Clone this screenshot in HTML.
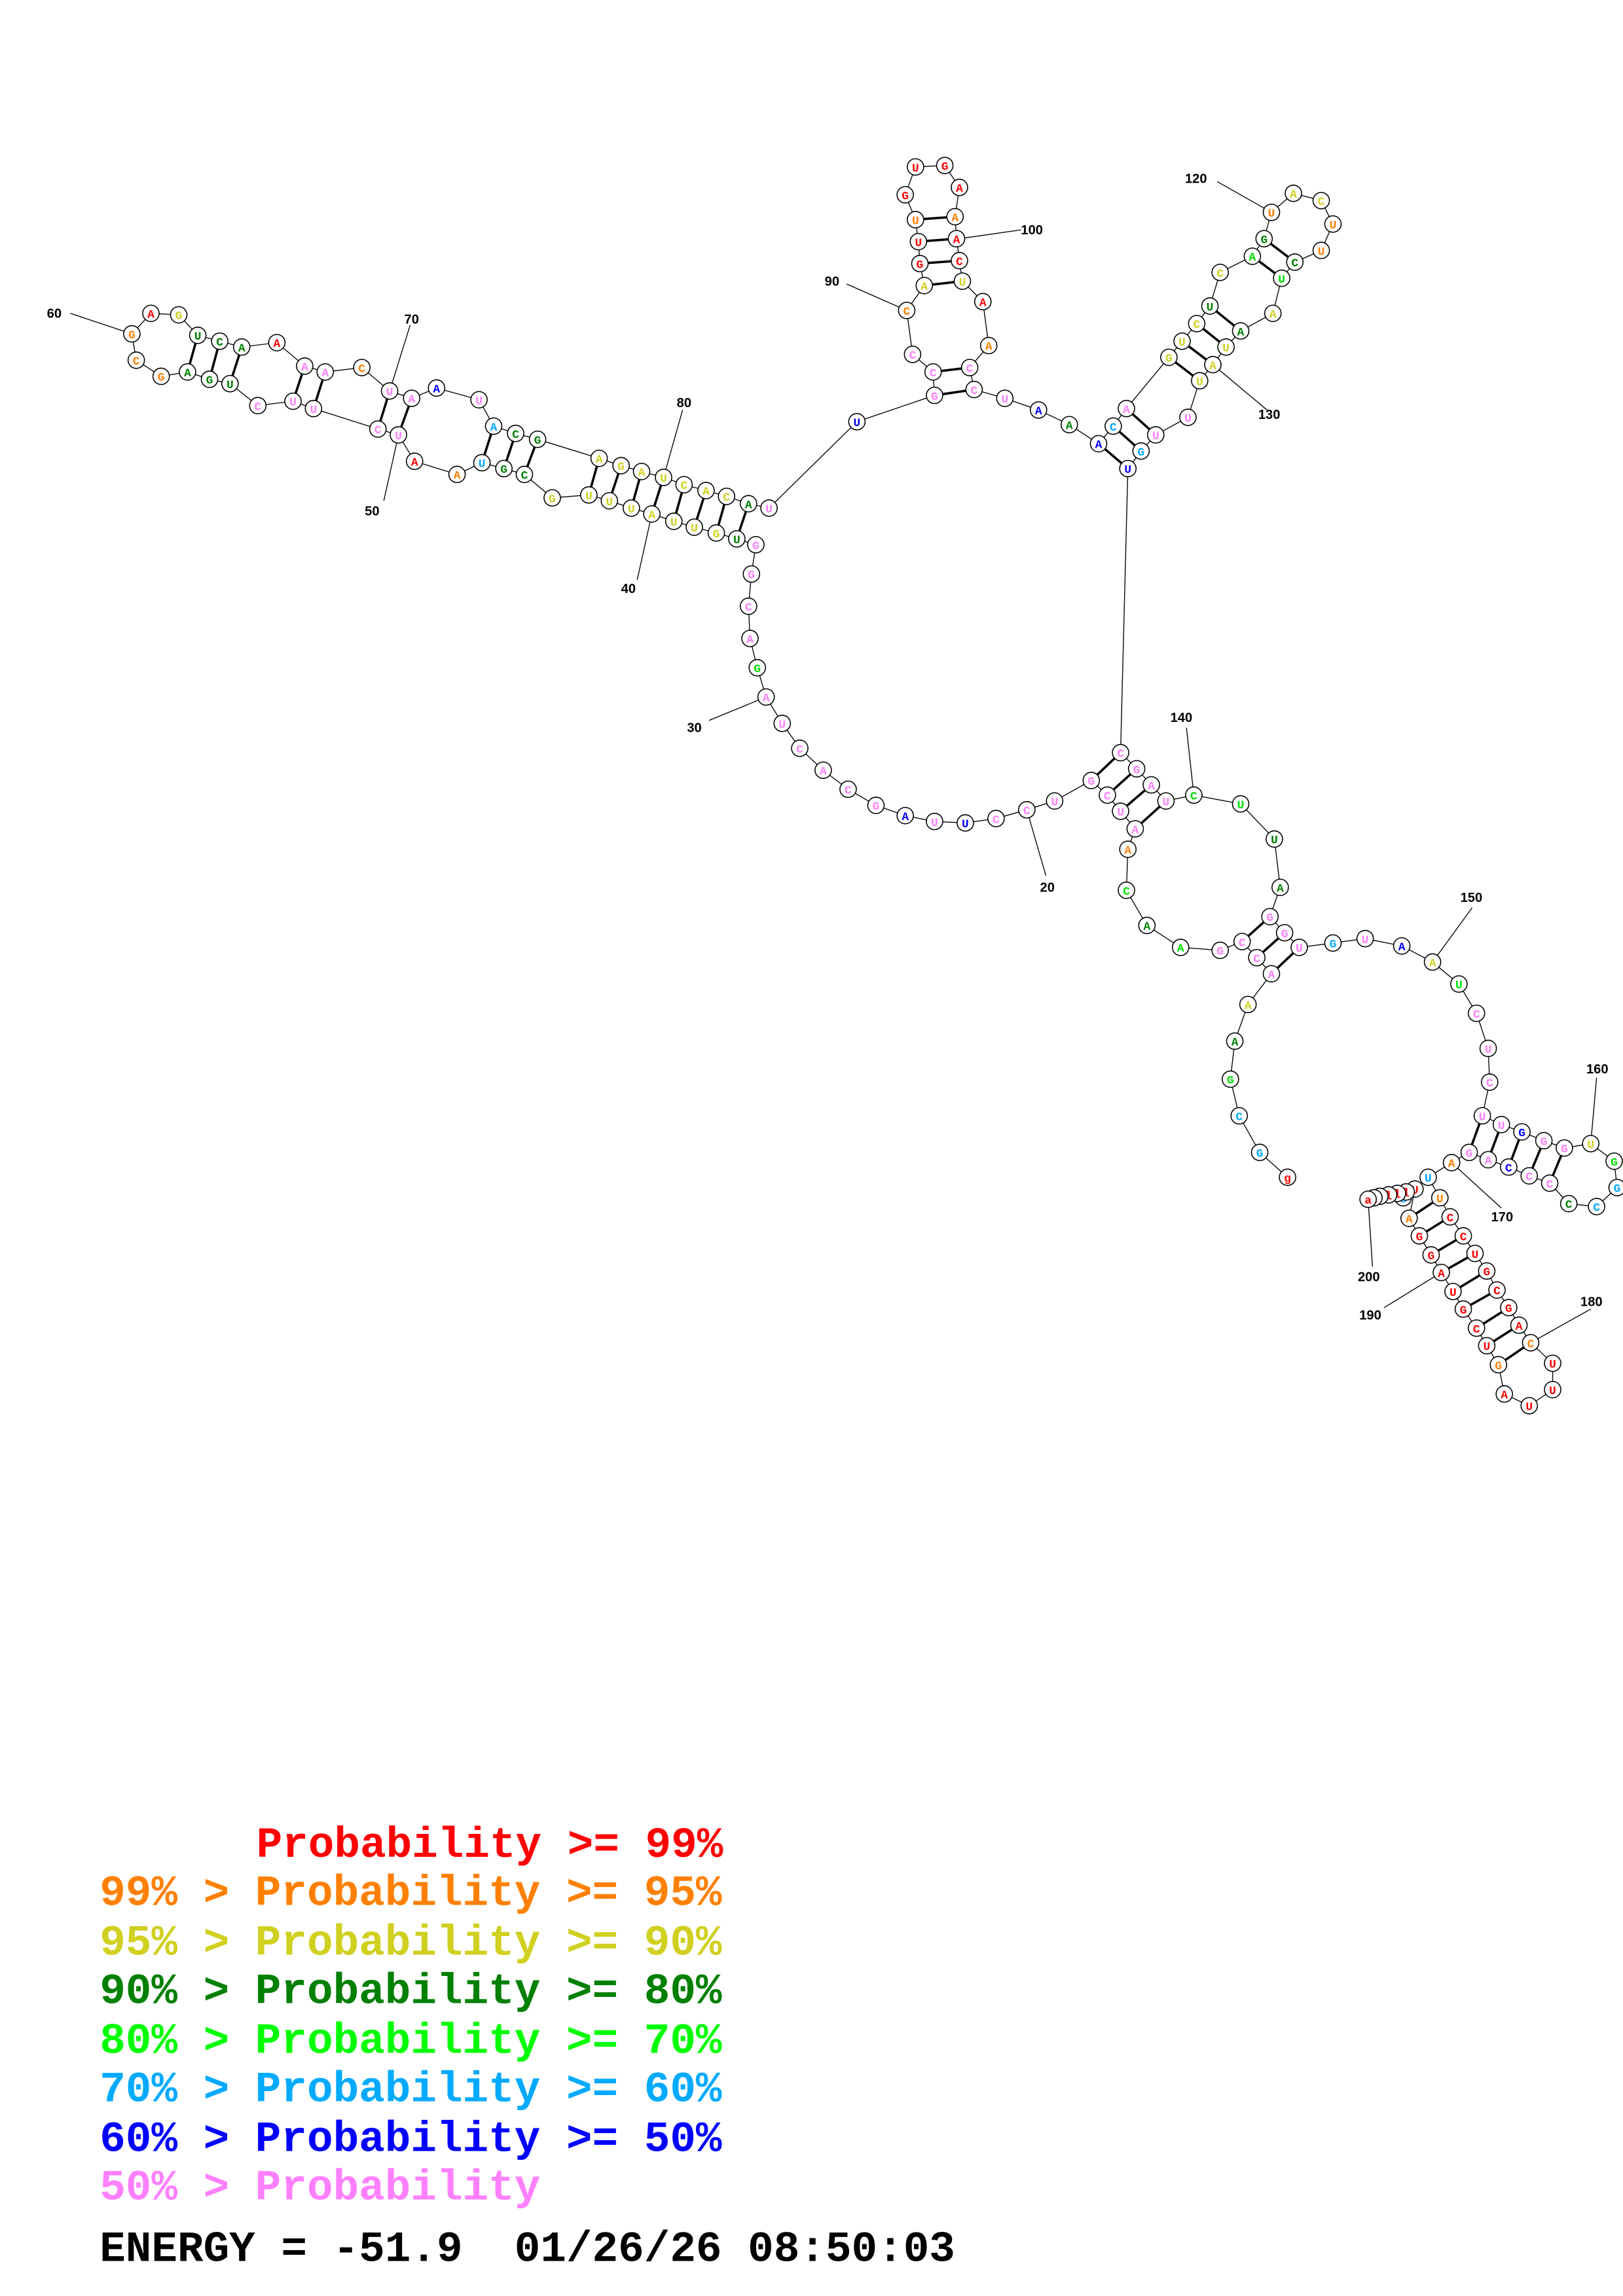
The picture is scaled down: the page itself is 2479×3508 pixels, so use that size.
<!DOCTYPE html>
<html><head><meta charset="utf-8"><style>
html,body{margin:0;padding:0;background:#fff}
svg{display:block}
.n circle{fill:#fff;stroke:#000;stroke-width:.7}
.n text{font-family:"Liberation Mono",monospace;font-weight:bold;font-size:8px;text-anchor:middle}
.r{fill:#f00}.o{fill:#ff8000}.y{fill:#d0d020}.d{fill:#008000}.l{fill:#00e000}.c{fill:#00a8ff}.b{fill:#0000ff}.p{fill:#ff80ff}
.lab{font-family:"Liberation Sans",sans-serif;font-weight:bold;font-size:9px;fill:#000}
.lg{font-family:"Liberation Mono",monospace;font-weight:bold;font-size:29.5px}
</style></head><body>
<svg width="2479" height="3508" viewBox="0 0 1108 1568" xmlns="http://www.w3.org/2000/svg">
<rect width="1108" height="1568" fill="#fff"/>
<polyline fill="none" stroke="#000" stroke-width=".6" points="879,804 860,787 846,762 840,737 843,711 852,686 868,665 858,654 848,643 833,649 806,647 783,632 769,608 770,580 775,566 765,554 756,543 745,533 720,547 701,553 680,559 659,562 638,561 618,557 598,550 579,539 562,526 546,511 534,494 523,476 517,456 512,436 511,414 513,392 516,372 503,368 489,364 474,360 460,356 445,351 431,347 416,342 402,338 377,340 358,324 344,320 329,316 312,324 283,315 272,297 258,293 214,279 200,274 176,277 157,262 143,259 128,254 110,257 93,246 90,228 103,214 122,215 135,229 150,233 165,237 189,234 208,250 222,254 247,251 266,267 281,272 298,265 327,273 337,291 352,296 367,300 409,313 424,318 438,322 453,326 467,331 482,335 496,339 511,344 525,347 585,288 638,270 637,254 623,242 619,212 631,195 628,180 627,165 625,150 618,133 625,114 645,113 655,128 652,148 653,163 655,178 657,192 671,206 675,236 662,251 665,266 686,272 709,280 730,290 750,303 760,291 769,279 798,244 807,233 817,221 826,209 833,186 855,175 863,163 868,145 883,132 902,137 910,153 902,171 884,179 875,190 869,214 847,226 837,237 828,249 819,260 811,285 789,297 779,308 770,320 765,514 776,525 786,536 796,547 815,543 847,549 870,573 874,606 867,626 877,637 887,647 910,644 932,641 957,646 978,657 996,672 1008,692 1016,716 1017,739 1012,762 1025,768 1039,773 1054,779 1068,784 1086,781 1102,793 1104,811 1090,824 1071,822 1058,808 1044,803 1030,797 1016,792 1003,787 991,794 975,804 983,818 990,831 999,844 1007,856 1015,868 1022,881 1030,893 1037,905 1045,917 1060,931 1060,949 1044,960 1027,952 1023,932 1015,919 1008,907 999,894 992,882 984,869 977,857 969,844 962,832 966,812 960,814 954,815 948,816 942,817 938,818 934,819"/>
<g stroke="#000" stroke-width="1.6">
<line x1="511" y1="344" x2="503" y2="368"/><line x1="496" y1="339" x2="489" y2="364"/><line x1="482" y1="335" x2="474" y2="360"/><line x1="467" y1="331" x2="460" y2="356"/><line x1="453" y1="326" x2="445" y2="351"/><line x1="438" y1="322" x2="431" y2="347"/><line x1="424" y1="318" x2="416" y2="342"/><line x1="409" y1="313" x2="402" y2="338"/>
<line x1="367" y1="300" x2="358" y2="324"/><line x1="352" y1="296" x2="344" y2="320"/><line x1="337" y1="291" x2="329" y2="316"/>
<line x1="266" y1="267" x2="258" y2="293"/><line x1="281" y1="272" x2="272" y2="297"/><line x1="222" y1="254" x2="214" y2="279"/><line x1="208" y1="250" x2="200" y2="274"/>
<line x1="135" y1="229" x2="128" y2="254"/><line x1="150" y1="233" x2="143" y2="259"/><line x1="165" y1="237" x2="157" y2="262"/>
<line x1="631" y1="195" x2="657" y2="192"/><line x1="628" y1="180" x2="655" y2="178"/><line x1="627" y1="165" x2="653" y2="163"/><line x1="625" y1="150" x2="652" y2="148"/>
<line x1="638" y1="270" x2="665" y2="266"/><line x1="637" y1="254" x2="662" y2="251"/>
<line x1="750" y1="303" x2="770" y2="320"/><line x1="760" y1="291" x2="779" y2="308"/><line x1="769" y1="279" x2="789" y2="297"/>
<line x1="798" y1="244" x2="819" y2="260"/><line x1="807" y1="233" x2="828" y2="249"/><line x1="817" y1="221" x2="837" y2="237"/><line x1="826" y1="209" x2="847" y2="226"/><line x1="855" y1="175" x2="875" y2="190"/><line x1="863" y1="163" x2="884" y2="179"/>
<line x1="745" y1="533" x2="765" y2="514"/><line x1="756" y1="543" x2="776" y2="525"/><line x1="765" y1="554" x2="786" y2="536"/><line x1="775" y1="566" x2="796" y2="547"/>
<line x1="848" y1="643" x2="867" y2="626"/><line x1="858" y1="654" x2="877" y2="637"/><line x1="868" y1="665" x2="887" y2="647"/>
<line x1="1012" y1="762" x2="1003" y2="787"/><line x1="1025" y1="768" x2="1016" y2="792"/><line x1="1039" y1="773" x2="1030" y2="797"/><line x1="1054" y1="779" x2="1044" y2="803"/><line x1="1068" y1="784" x2="1058" y2="808"/>
<line x1="983" y1="818" x2="962" y2="832"/><line x1="990" y1="831" x2="969" y2="844"/><line x1="999" y1="844" x2="977" y2="857"/><line x1="1007" y1="856" x2="984" y2="869"/><line x1="1015" y1="868" x2="992" y2="882"/><line x1="1022" y1="881" x2="999" y2="894"/><line x1="1030" y1="893" x2="1008" y2="907"/><line x1="1037" y1="905" x2="1015" y2="919"/><line x1="1045" y1="917" x2="1023" y2="932"/>
</g>
<g stroke="#000" stroke-width=".6">
<line x1="48" y1="214" x2="90" y2="228"/><line x1="280" y1="222" x2="266" y2="267"/><line x1="466" y1="280" x2="453" y2="326"/><line x1="262" y1="342" x2="272" y2="297"/><line x1="435" y1="396" x2="445" y2="351"/><line x1="484" y1="492" x2="523" y2="476"/><line x1="714" y1="598" x2="701" y2="553"/><line x1="578" y1="194" x2="619" y2="212"/><line x1="697" y1="157" x2="655" y2="163"/><line x1="831" y1="124" x2="868" y2="145"/><line x1="865" y1="280" x2="828" y2="249"/><line x1="810" y1="497" x2="815" y2="543"/><line x1="1005" y1="620" x2="978" y2="657"/><line x1="1090" y1="736" x2="1086" y2="781"/><line x1="1025" y1="825" x2="991" y2="794"/><line x1="1086" y1="894" x2="1045" y2="917"/><line x1="945" y1="893" x2="984" y2="869"/><line x1="937" y1="865" x2="934" y2="819"/>
</g>
<g class="lab">
<text x="32" y="217">60</text><text x="276" y="221">70</text><text x="462" y="278">80</text><text x="249" y="352">50</text><text x="424" y="405">40</text><text x="469" y="500">30</text><text x="710" y="609">20</text><text x="563" y="195">90</text><text x="697" y="160">100</text><text x="809" y="125">120</text><text x="859" y="286">130</text><text x="799" y="493">140</text><text x="997" y="616">150</text><text x="1083" y="733">160</text><text x="1018" y="834">170</text><text x="1079" y="892">180</text><text x="928" y="901">190</text><text x="927" y="875">200</text>
</g>
<g class="n">
<circle cx="879" cy="804" r="5.6"/><text x="879" y="807" class="r">g</text>
<circle cx="860" cy="787" r="5.6"/><text x="860" y="790" class="c">G</text>
<circle cx="846" cy="762" r="5.6"/><text x="846" y="765" class="c">C</text>
<circle cx="840" cy="737" r="5.6"/><text x="840" y="740" class="l">G</text>
<circle cx="843" cy="711" r="5.6"/><text x="843" y="714" class="d">A</text>
<circle cx="852" cy="686" r="5.6"/><text x="852" y="689" class="y">A</text>
<circle cx="868" cy="665" r="5.6"/><text x="868" y="668" class="p">A</text>
<circle cx="858" cy="654" r="5.6"/><text x="858" y="657" class="p">C</text>
<circle cx="848" cy="643" r="5.6"/><text x="848" y="646" class="p">C</text>
<circle cx="833" cy="649" r="5.6"/><text x="833" y="652" class="p">G</text>
<circle cx="806" cy="647" r="5.6"/><text x="806" y="650" class="l">A</text>
<circle cx="783" cy="632" r="5.6"/><text x="783" y="635" class="d">A</text>
<circle cx="769" cy="608" r="5.6"/><text x="769" y="611" class="l">C</text>
<circle cx="770" cy="580" r="5.6"/><text x="770" y="583" class="o">A</text>
<circle cx="775" cy="566" r="5.6"/><text x="775" y="569" class="p">A</text>
<circle cx="765" cy="554" r="5.6"/><text x="765" y="557" class="p">U</text>
<circle cx="756" cy="543" r="5.6"/><text x="756" y="546" class="p">C</text>
<circle cx="745" cy="533" r="5.6"/><text x="745" y="536" class="p">G</text>
<circle cx="720" cy="547" r="5.6"/><text x="720" y="550" class="p">U</text>
<circle cx="701" cy="553" r="5.6"/><text x="701" y="556" class="p">C</text>
<circle cx="680" cy="559" r="5.6"/><text x="680" y="562" class="p">C</text>
<circle cx="659" cy="562" r="5.6"/><text x="659" y="565" class="b">U</text>
<circle cx="638" cy="561" r="5.6"/><text x="638" y="564" class="p">U</text>
<circle cx="618" cy="557" r="5.6"/><text x="618" y="560" class="b">A</text>
<circle cx="598" cy="550" r="5.6"/><text x="598" y="553" class="p">G</text>
<circle cx="579" cy="539" r="5.6"/><text x="579" y="542" class="p">C</text>
<circle cx="562" cy="526" r="5.6"/><text x="562" y="529" class="p">A</text>
<circle cx="546" cy="511" r="5.6"/><text x="546" y="514" class="p">C</text>
<circle cx="534" cy="494" r="5.6"/><text x="534" y="497" class="p">U</text>
<circle cx="523" cy="476" r="5.6"/><text x="523" y="479" class="p">A</text>
<circle cx="517" cy="456" r="5.6"/><text x="517" y="459" class="l">G</text>
<circle cx="512" cy="436" r="5.6"/><text x="512" y="439" class="p">A</text>
<circle cx="511" cy="414" r="5.6"/><text x="511" y="417" class="p">C</text>
<circle cx="513" cy="392" r="5.6"/><text x="513" y="395" class="p">G</text>
<circle cx="516" cy="372" r="5.6"/><text x="516" y="375" class="p">G</text>
<circle cx="503" cy="368" r="5.6"/><text x="503" y="371" class="d">U</text>
<circle cx="489" cy="364" r="5.6"/><text x="489" y="367" class="y">G</text>
<circle cx="474" cy="360" r="5.6"/><text x="474" y="363" class="y">U</text>
<circle cx="460" cy="356" r="5.6"/><text x="460" y="359" class="y">U</text>
<circle cx="445" cy="351" r="5.6"/><text x="445" y="354" class="y">A</text>
<circle cx="431" cy="347" r="5.6"/><text x="431" y="350" class="y">U</text>
<circle cx="416" cy="342" r="5.6"/><text x="416" y="345" class="y">U</text>
<circle cx="402" cy="338" r="5.6"/><text x="402" y="341" class="y">U</text>
<circle cx="377" cy="340" r="5.6"/><text x="377" y="343" class="y">G</text>
<circle cx="358" cy="324" r="5.6"/><text x="358" y="327" class="d">C</text>
<circle cx="344" cy="320" r="5.6"/><text x="344" y="323" class="d">G</text>
<circle cx="329" cy="316" r="5.6"/><text x="329" y="319" class="c">U</text>
<circle cx="312" cy="324" r="5.6"/><text x="312" y="327" class="o">A</text>
<circle cx="283" cy="315" r="5.6"/><text x="283" y="318" class="r">A</text>
<circle cx="272" cy="297" r="5.6"/><text x="272" y="300" class="p">U</text>
<circle cx="258" cy="293" r="5.6"/><text x="258" y="296" class="p">C</text>
<circle cx="214" cy="279" r="5.6"/><text x="214" y="282" class="p">U</text>
<circle cx="200" cy="274" r="5.6"/><text x="200" y="277" class="p">U</text>
<circle cx="176" cy="277" r="5.6"/><text x="176" y="280" class="p">C</text>
<circle cx="157" cy="262" r="5.6"/><text x="157" y="265" class="d">U</text>
<circle cx="143" cy="259" r="5.6"/><text x="143" y="262" class="d">G</text>
<circle cx="128" cy="254" r="5.6"/><text x="128" y="257" class="d">A</text>
<circle cx="110" cy="257" r="5.6"/><text x="110" y="260" class="o">G</text>
<circle cx="93" cy="246" r="5.6"/><text x="93" y="249" class="o">C</text>
<circle cx="90" cy="228" r="5.6"/><text x="90" y="231" class="o">G</text>
<circle cx="103" cy="214" r="5.6"/><text x="103" y="217" class="r">A</text>
<circle cx="122" cy="215" r="5.6"/><text x="122" y="218" class="y">G</text>
<circle cx="135" cy="229" r="5.6"/><text x="135" y="232" class="d">U</text>
<circle cx="150" cy="233" r="5.6"/><text x="150" y="236" class="d">C</text>
<circle cx="165" cy="237" r="5.6"/><text x="165" y="240" class="d">A</text>
<circle cx="189" cy="234" r="5.6"/><text x="189" y="237" class="r">A</text>
<circle cx="208" cy="250" r="5.6"/><text x="208" y="253" class="p">A</text>
<circle cx="222" cy="254" r="5.6"/><text x="222" y="257" class="p">A</text>
<circle cx="247" cy="251" r="5.6"/><text x="247" y="254" class="o">C</text>
<circle cx="266" cy="267" r="5.6"/><text x="266" y="270" class="p">U</text>
<circle cx="281" cy="272" r="5.6"/><text x="281" y="275" class="p">A</text>
<circle cx="298" cy="265" r="5.6"/><text x="298" y="268" class="b">A</text>
<circle cx="327" cy="273" r="5.6"/><text x="327" y="276" class="p">U</text>
<circle cx="337" cy="291" r="5.6"/><text x="337" y="294" class="c">A</text>
<circle cx="352" cy="296" r="5.6"/><text x="352" y="299" class="d">C</text>
<circle cx="367" cy="300" r="5.6"/><text x="367" y="303" class="d">G</text>
<circle cx="409" cy="313" r="5.6"/><text x="409" y="316" class="y">A</text>
<circle cx="424" cy="318" r="5.6"/><text x="424" y="321" class="y">G</text>
<circle cx="438" cy="322" r="5.6"/><text x="438" y="325" class="y">A</text>
<circle cx="453" cy="326" r="5.6"/><text x="453" y="329" class="y">U</text>
<circle cx="467" cy="331" r="5.6"/><text x="467" y="334" class="y">C</text>
<circle cx="482" cy="335" r="5.6"/><text x="482" y="338" class="y">A</text>
<circle cx="496" cy="339" r="5.6"/><text x="496" y="342" class="y">C</text>
<circle cx="511" cy="344" r="5.6"/><text x="511" y="347" class="d">A</text>
<circle cx="525" cy="347" r="5.6"/><text x="525" y="350" class="p">U</text>
<circle cx="585" cy="288" r="5.6"/><text x="585" y="291" class="b">U</text>
<circle cx="638" cy="270" r="5.6"/><text x="638" y="273" class="p">G</text>
<circle cx="637" cy="254" r="5.6"/><text x="637" y="257" class="p">C</text>
<circle cx="623" cy="242" r="5.6"/><text x="623" y="245" class="p">C</text>
<circle cx="619" cy="212" r="5.6"/><text x="619" y="215" class="o">C</text>
<circle cx="631" cy="195" r="5.6"/><text x="631" y="198" class="y">A</text>
<circle cx="628" cy="180" r="5.6"/><text x="628" y="183" class="r">G</text>
<circle cx="627" cy="165" r="5.6"/><text x="627" y="168" class="r">U</text>
<circle cx="625" cy="150" r="5.6"/><text x="625" y="153" class="o">U</text>
<circle cx="618" cy="133" r="5.6"/><text x="618" y="136" class="r">G</text>
<circle cx="625" cy="114" r="5.6"/><text x="625" y="117" class="r">U</text>
<circle cx="645" cy="113" r="5.6"/><text x="645" y="116" class="r">G</text>
<circle cx="655" cy="128" r="5.6"/><text x="655" y="131" class="r">A</text>
<circle cx="652" cy="148" r="5.6"/><text x="652" y="151" class="o">A</text>
<circle cx="653" cy="163" r="5.6"/><text x="653" y="166" class="r">A</text>
<circle cx="655" cy="178" r="5.6"/><text x="655" y="181" class="r">C</text>
<circle cx="657" cy="192" r="5.6"/><text x="657" y="195" class="y">U</text>
<circle cx="671" cy="206" r="5.6"/><text x="671" y="209" class="r">A</text>
<circle cx="675" cy="236" r="5.6"/><text x="675" y="239" class="o">A</text>
<circle cx="662" cy="251" r="5.6"/><text x="662" y="254" class="p">C</text>
<circle cx="665" cy="266" r="5.6"/><text x="665" y="269" class="p">C</text>
<circle cx="686" cy="272" r="5.6"/><text x="686" y="275" class="p">U</text>
<circle cx="709" cy="280" r="5.6"/><text x="709" y="283" class="b">A</text>
<circle cx="730" cy="290" r="5.6"/><text x="730" y="293" class="d">A</text>
<circle cx="750" cy="303" r="5.6"/><text x="750" y="306" class="b">A</text>
<circle cx="760" cy="291" r="5.6"/><text x="760" y="294" class="c">C</text>
<circle cx="769" cy="279" r="5.6"/><text x="769" y="282" class="p">A</text>
<circle cx="798" cy="244" r="5.6"/><text x="798" y="247" class="y">G</text>
<circle cx="807" cy="233" r="5.6"/><text x="807" y="236" class="y">U</text>
<circle cx="817" cy="221" r="5.6"/><text x="817" y="224" class="y">C</text>
<circle cx="826" cy="209" r="5.6"/><text x="826" y="212" class="d">U</text>
<circle cx="833" cy="186" r="5.6"/><text x="833" y="189" class="y">C</text>
<circle cx="855" cy="175" r="5.6"/><text x="855" y="178" class="l">A</text>
<circle cx="863" cy="163" r="5.6"/><text x="863" y="166" class="d">G</text>
<circle cx="868" cy="145" r="5.6"/><text x="868" y="148" class="o">U</text>
<circle cx="883" cy="132" r="5.6"/><text x="883" y="135" class="y">A</text>
<circle cx="902" cy="137" r="5.6"/><text x="902" y="140" class="y">C</text>
<circle cx="910" cy="153" r="5.6"/><text x="910" y="156" class="o">U</text>
<circle cx="902" cy="171" r="5.6"/><text x="902" y="174" class="o">U</text>
<circle cx="884" cy="179" r="5.6"/><text x="884" y="182" class="d">C</text>
<circle cx="875" cy="190" r="5.6"/><text x="875" y="193" class="l">U</text>
<circle cx="869" cy="214" r="5.6"/><text x="869" y="217" class="y">A</text>
<circle cx="847" cy="226" r="5.6"/><text x="847" y="229" class="d">A</text>
<circle cx="837" cy="237" r="5.6"/><text x="837" y="240" class="y">U</text>
<circle cx="828" cy="249" r="5.6"/><text x="828" y="252" class="y">A</text>
<circle cx="819" cy="260" r="5.6"/><text x="819" y="263" class="y">U</text>
<circle cx="811" cy="285" r="5.6"/><text x="811" y="288" class="p">U</text>
<circle cx="789" cy="297" r="5.6"/><text x="789" y="300" class="p">U</text>
<circle cx="779" cy="308" r="5.6"/><text x="779" y="311" class="c">G</text>
<circle cx="770" cy="320" r="5.6"/><text x="770" y="323" class="b">U</text>
<circle cx="765" cy="514" r="5.6"/><text x="765" y="517" class="p">C</text>
<circle cx="776" cy="525" r="5.6"/><text x="776" y="528" class="p">G</text>
<circle cx="786" cy="536" r="5.6"/><text x="786" y="539" class="p">A</text>
<circle cx="796" cy="547" r="5.6"/><text x="796" y="550" class="p">U</text>
<circle cx="815" cy="543" r="5.6"/><text x="815" y="546" class="l">C</text>
<circle cx="847" cy="549" r="5.6"/><text x="847" y="552" class="l">U</text>
<circle cx="870" cy="573" r="5.6"/><text x="870" y="576" class="d">U</text>
<circle cx="874" cy="606" r="5.6"/><text x="874" y="609" class="d">A</text>
<circle cx="867" cy="626" r="5.6"/><text x="867" y="629" class="p">G</text>
<circle cx="877" cy="637" r="5.6"/><text x="877" y="640" class="p">G</text>
<circle cx="887" cy="647" r="5.6"/><text x="887" y="650" class="p">U</text>
<circle cx="910" cy="644" r="5.6"/><text x="910" y="647" class="c">G</text>
<circle cx="932" cy="641" r="5.6"/><text x="932" y="644" class="p">U</text>
<circle cx="957" cy="646" r="5.6"/><text x="957" y="649" class="b">A</text>
<circle cx="978" cy="657" r="5.6"/><text x="978" y="660" class="y">A</text>
<circle cx="996" cy="672" r="5.6"/><text x="996" y="675" class="l">U</text>
<circle cx="1008" cy="692" r="5.6"/><text x="1008" y="695" class="p">C</text>
<circle cx="1016" cy="716" r="5.6"/><text x="1016" y="719" class="p">U</text>
<circle cx="1017" cy="739" r="5.6"/><text x="1017" y="742" class="p">C</text>
<circle cx="1012" cy="762" r="5.6"/><text x="1012" y="765" class="p">U</text>
<circle cx="1025" cy="768" r="5.6"/><text x="1025" y="771" class="p">U</text>
<circle cx="1039" cy="773" r="5.6"/><text x="1039" y="776" class="b">G</text>
<circle cx="1054" cy="779" r="5.6"/><text x="1054" y="782" class="p">G</text>
<circle cx="1068" cy="784" r="5.6"/><text x="1068" y="787" class="p">G</text>
<circle cx="1086" cy="781" r="5.6"/><text x="1086" y="784" class="y">U</text>
<circle cx="1102" cy="793" r="5.6"/><text x="1102" y="796" class="l">G</text>
<circle cx="1104" cy="811" r="5.6"/><text x="1104" y="814" class="c">G</text>
<circle cx="1090" cy="824" r="5.6"/><text x="1090" y="827" class="c">C</text>
<circle cx="1071" cy="822" r="5.6"/><text x="1071" y="825" class="d">C</text>
<circle cx="1058" cy="808" r="5.6"/><text x="1058" y="811" class="p">C</text>
<circle cx="1044" cy="803" r="5.6"/><text x="1044" y="806" class="p">C</text>
<circle cx="1030" cy="797" r="5.6"/><text x="1030" y="800" class="b">C</text>
<circle cx="1016" cy="792" r="5.6"/><text x="1016" y="795" class="p">A</text>
<circle cx="1003" cy="787" r="5.6"/><text x="1003" y="790" class="p">G</text>
<circle cx="991" cy="794" r="5.6"/><text x="991" y="797" class="o">A</text>
<circle cx="975" cy="804" r="5.6"/><text x="975" y="807" class="c">U</text>
<circle cx="983" cy="818" r="5.6"/><text x="983" y="821" class="o">U</text>
<circle cx="990" cy="831" r="5.6"/><text x="990" y="834" class="r">C</text>
<circle cx="999" cy="844" r="5.6"/><text x="999" y="847" class="r">C</text>
<circle cx="1007" cy="856" r="5.6"/><text x="1007" y="859" class="r">U</text>
<circle cx="1015" cy="868" r="5.6"/><text x="1015" y="871" class="r">G</text>
<circle cx="1022" cy="881" r="5.6"/><text x="1022" y="884" class="r">C</text>
<circle cx="1030" cy="893" r="5.6"/><text x="1030" y="896" class="r">G</text>
<circle cx="1037" cy="905" r="5.6"/><text x="1037" y="908" class="r">A</text>
<circle cx="1045" cy="917" r="5.6"/><text x="1045" y="920" class="o">C</text>
<circle cx="1060" cy="931" r="5.6"/><text x="1060" y="934" class="r">U</text>
<circle cx="1060" cy="949" r="5.6"/><text x="1060" y="952" class="r">U</text>
<circle cx="1044" cy="960" r="5.6"/><text x="1044" y="963" class="r">U</text>
<circle cx="1027" cy="952" r="5.6"/><text x="1027" y="955" class="r">A</text>
<circle cx="1023" cy="932" r="5.6"/><text x="1023" y="935" class="o">G</text>
<circle cx="1015" cy="919" r="5.6"/><text x="1015" y="922" class="r">U</text>
<circle cx="1008" cy="907" r="5.6"/><text x="1008" y="910" class="r">C</text>
<circle cx="999" cy="894" r="5.6"/><text x="999" y="897" class="r">G</text>
<circle cx="992" cy="882" r="5.6"/><text x="992" y="885" class="r">U</text>
<circle cx="984" cy="869" r="5.6"/><text x="984" y="872" class="r">A</text>
<circle cx="977" cy="857" r="5.6"/><text x="977" y="860" class="r">G</text>
<circle cx="969" cy="844" r="5.6"/><text x="969" y="847" class="r">G</text>
<circle cx="962" cy="832" r="5.6"/><text x="962" y="835" class="o">A</text>
<circle cx="958" cy="818" r="5.6"/><text x="958" y="821" class="c">G</text>
<circle cx="966" cy="812" r="5.6"/><text x="966" y="815" class="r">U</text>
<circle cx="960" cy="814" r="5.6"/><text x="960" y="817" class="r">l</text>
<circle cx="954" cy="815" r="5.6"/><text x="954" y="818" class="r">l</text>
<circle cx="948" cy="816" r="5.6"/><text x="948" y="819" class="r">l</text>
<circle cx="942" cy="817" r="5.6"/><text x="942" y="820" class="r">c</text>
<circle cx="938" cy="818" r="5.6"/><text x="938" y="821" class="r">a</text>
<circle cx="934" cy="819" r="5.6"/><text x="934" y="822" class="r">a</text>
</g>
<g class="lg">
<text x="175" y="1268" fill="#f00">Probability &gt;= 99%</text>
<text x="68" y="1301" fill="#ff8000">99% &gt; Probability &gt;= 95%</text>
<text x="68" y="1335" fill="#d0d020">95% &gt; Probability &gt;= 90%</text>
<text x="68" y="1368" fill="#008000">90% &gt; Probability &gt;= 80%</text>
<text x="68" y="1402" fill="#00ff00">80% &gt; Probability &gt;= 70%</text>
<text x="68" y="1435" fill="#00aaff">70% &gt; Probability &gt;= 60%</text>
<text x="68" y="1469" fill="#0000ff">60% &gt; Probability &gt;= 50%</text>
<text x="68" y="1502" fill="#ff80ff">50% &gt; Probability</text>
<text x="68" y="1544" fill="#000" xml:space="preserve">ENERGY = -51.9  01/26/26 08:50:03</text>
</g>
</svg>
</body></html>
